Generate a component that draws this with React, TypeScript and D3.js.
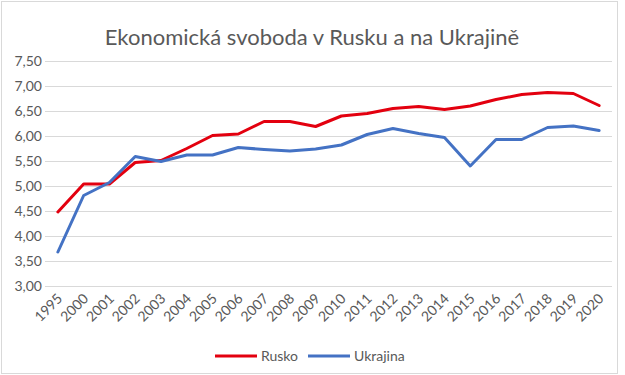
import React from "react";
import { scaleBand, scaleLinear, line, range } from "d3";

// Categories and values
const years = [
  "1995", "2000", "2001", "2002", "2003", "2004", "2005", "2006", "2007", "2008", "2009",
  "2010", "2011", "2012", "2013", "2014", "2015", "2016", "2017", "2018", "2019", "2020",
];
const rusko = [
  4.48, 5.04, 5.04, 5.47, 5.51, 5.75, 6.01, 6.04, 6.29, 6.29, 6.19,
  6.40, 6.45, 6.55, 6.59, 6.53, 6.60, 6.73, 6.83, 6.87, 6.85, 6.61,
];
const ukrajina = [
  3.68, 4.81, 5.07, 5.59, 5.49, 5.62, 5.62, 5.77, 5.73, 5.70, 5.74,
  5.82, 6.03, 6.15, 6.05, 5.97, 5.40, 5.93, 5.93, 6.17, 6.20, 6.11,
];
const yTicks = range(3, 7.51, 0.5);
const seriesNames = ["Rusko", "Ukrajina"];
const seriesColors = ["#e3000f", "#4472c4"];

const W = 625;
const H = 375;
const margin = { top: 61, right: 13, bottom: 89, left: 45 };

export default function App() {
  const x = scaleBand<string>()
    .domain(years)
    .range([margin.left, W - margin.right]);
  const y = scaleLinear()
    .domain([3, 7.5])
    .range([H - margin.bottom, margin.top]);

  const path = line<number>()
    .x((_, i) => x(years[i])! + x.bandwidth() / 2)
    .y((v) => y(v));

  const font = "Lato, 'Open Sans', sans-serif";

  return (
    <div style={{ position: "absolute", left: 0, top: 0 }}>
      <svg width={W} height={H} style={{ display: "block", fontFamily: font }}>
        <rect x={0} y={0} width={W} height={H} fill="#fff" />
        <rect x={1.5} y={1.5} width={W - 9} height={H - 3} fill="none" stroke="#d9d9d9" strokeWidth={1} />

        {/* title */}
        <text
          x={312}
          y={45}
          textAnchor="middle"
          fontSize={22}
          fill="#595959"
        >
          Ekonomická svoboda v Rusku a na Ukrajině
        </text>

        {/* grid + y labels */}
        {yTicks.map((t) => (
          <g key={t}>
            <line
              x1={margin.left}
              x2={W - margin.right}
              y1={Math.round(y(t)) + 0.5}
              y2={Math.round(y(t)) + 0.5}
              stroke="#d9d9d9"
              strokeWidth={1}
            />
            <text
              x={42}
              y={y(t)}
              dy="0.35em"
              textAnchor="end"
              fontSize={14}
              fill="#595959"
            >
              {t.toFixed(2).replace(".", ",")}
            </text>
          </g>
        ))}

        {/* x labels */}
        {years.map((yr) => {
          const cx = x(yr)! + x.bandwidth() / 2;
          return (
            <text
              key={yr}
              transform={`translate(${cx + 2},${H - margin.bottom + 10}) rotate(-45)`}
              textAnchor="end"
              dy="0.35em"
              fontSize={14}
              fill="#595959"
            >
              {yr}
            </text>
          );
        })}

        {/* series */}
        {[rusko, ukrajina].map((vals, i) => (
          <path
            key={seriesNames[i]}
            d={path(vals)!}
            fill="none"
            stroke={seriesColors[i]}
            strokeWidth={3}
            strokeLinejoin="round"
            strokeLinecap="round"
          />
        ))}

        {/* legend */}
        {seriesNames.map((name, i) => {
          const lx = i === 0 ? 215 : 308;
          return (
            <g key={name}>
              <line x1={lx} x2={lx + 42} y1={356} y2={356} stroke={seriesColors[i]} strokeWidth={3} />
              <text x={lx + 46} y={356} dy="0.35em" fontSize={14} fill="#595959">
                {name}
              </text>
            </g>
          );
        })}
      </svg>
    </div>
  );
}
